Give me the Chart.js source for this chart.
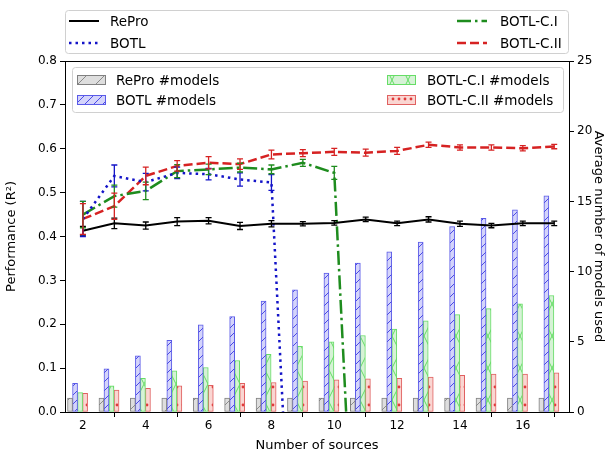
<!DOCTYPE html>
<html>
<head>
<meta charset="utf-8">
<script src="https://cdn.jsdelivr.net/npm/chart.js@4.4.1/dist/chart.umd.min.js"></script>
<style>
  html, body { margin: 0; padding: 0; background: #fff; }
  #chart { display: block; }
</style>
</head>
<body>
<canvas id="chart" width="610" height="457"></canvas>
<script>
const colBlack = "#000000";
const colBlue = "#1414c8";
const colGreen = "#1e8c1e";
const colRed = "#d62222";

// x values and ticks
const sources = [2, 3, 4, 5, 6, 7, 8, 9, 10, 11, 12, 13, 14, 15, 16, 17];
const xTicks = [2, 4, 6, 8, 10, 12, 14, 16];

// performance (R^2), left axis
const repro = [0.413, 0.430, 0.425, 0.434, 0.436, 0.424, 0.429, 0.429, 0.431, 0.439, 0.430, 0.439, 0.429, 0.425, 0.430, 0.430];
const reproErr = [0.010, 0.012, 0.008, 0.009, 0.007, 0.008, 0.007, 0.005, 0.005, 0.005, 0.005, 0.006, 0.006, 0.005, 0.005, 0.005];
const botl = [0.440, 0.538, 0.524, 0.545, 0.542, 0.530, 0.523, -0.9];
const botlErr = [0.040, 0.025, 0.020, 0.013, 0.013, 0.015, 0.018];
const botlC1 = [0.450, 0.492, 0.504, 0.549, 0.553, 0.557, 0.553, 0.568, 0.545, -0.9];
const botlC1Err = [0.030, 0.025, 0.020, 0.015, 0.012, 0.010, 0.010, 0.008, 0.015];
const botlC2 = [0.440, 0.469, 0.538, 0.561, 0.568, 0.565, 0.587, 0.590, 0.593, 0.591, 0.595, 0.609, 0.603, 0.603, 0.601, 0.605];
const botlC2Err = [0.035, 0.030, 0.020, 0.012, 0.014, 0.012, 0.010, 0.008, 0.008, 0.008, 0.008, 0.006, 0.006, 0.006, 0.006, 0.005];

// average number of models used, right axis
const reproModels = [1, 1, 1, 1, 1, 1, 1, 1, 1, 1, 1, 1, 1, 1, 1, 1];
const botlModels = [2.05, 3.07, 4.0, 5.1, 6.2, 6.8, 7.9, 8.7, 9.9, 10.6, 11.4, 12.1, 13.2, 13.8, 14.4, 15.4];
const botlC1Models = [1.38, 1.86, 2.4, 2.93, 3.17, 3.67, 4.1, 4.67, 5.0, 5.45, 5.9, 6.5, 6.93, 7.36, 7.7, 8.3];
const botlC2Models = [1.33, 1.57, 1.69, 1.86, 1.9, 2.05, 2.1, 2.2, 2.29, 2.36, 2.4, 2.48, 2.62, 2.7, 2.7, 2.79];

const xMin = 1.43;
const xMax = 17.47;
// each bar series sits on its own hidden x axis, shifted from the tick
const barOffsets = { xg: -0.41, xb: -0.25, xc1: -0.09, xc2: 0.07 };

function pts(vals) {
	return sources.map((s, i) => ({ x: s, y: i < vals.length ? vals[i] : null }));
}

function hatch(bg, fg, kind, w, h) {
	const c = document.createElement("canvas");
	c.width = w;
	c.height = h;
	const g = c.getContext("2d");
	g.fillStyle = bg;
	g.fillRect(0, 0, w, h);
	g.strokeStyle = fg;
	g.fillStyle = fg;
	g.lineWidth = 1;
	g.beginPath();
	if (kind === "/" || kind === "x") {
		g.moveTo(0, h); g.lineTo(w, 0);
		g.moveTo(-2, 2); g.lineTo(2, -2);
		g.moveTo(w - 2, h + 2); g.lineTo(w + 2, h - 2);
	}
	if (kind === "\\" || kind === "x") {
		g.moveTo(0, 0); g.lineTo(w, h);
		g.moveTo(-2, h - 2); g.lineTo(2, h + 2);
		g.moveTo(w - 2, -2); g.lineTo(w + 2, 2);
	}
	g.stroke();
	if (kind === ".") {
		g.beginPath();
		g.arc(w / 2, h / 2, 1.4, 0, Math.PI * 2);
		g.fill();
	}
	return g.createPattern(c, "repeat");
}

const ctx = document.getElementById("chart").getContext("2d");

const errSeries = [
	{ vals: repro, err: reproErr, color: colBlack },
	{ vals: botl, err: botlErr, color: colBlue },
	{ vals: botlC1, err: botlC1Err, color: colGreen },
	{ vals: botlC2, err: botlC2Err, color: colRed },
];

const errorBars = {
	id: "errorBars",
	afterDatasetsDraw(chart) {
		const { ctx, scales, chartArea } = chart;
		ctx.save();
		ctx.beginPath();
		ctx.rect(chartArea.left, chartArea.top, chartArea.right - chartArea.left, chartArea.bottom - chartArea.top);
		ctx.clip();
		ctx.lineWidth = 1.3;
		errSeries.forEach((s) => {
			ctx.strokeStyle = s.color;
			s.err.forEach((e, i) => {
				const x = scales.x.getPixelForValue(sources[i]);
				const y1 = scales.y.getPixelForValue(s.vals[i] - e);
				const y2 = scales.y.getPixelForValue(s.vals[i] + e);
				ctx.beginPath();
				ctx.moveTo(x, y1); ctx.lineTo(x, y2);
				ctx.moveTo(x - 3, y1); ctx.lineTo(x + 3, y1);
				ctx.moveTo(x - 3, y2); ctx.lineTo(x + 3, y2);
				ctx.stroke();
			});
		});
		ctx.restore();
	},
};

const frameAndLegends = {
	id: "frameAndLegends",
	afterDraw(chart) {
		const { ctx, chartArea, data } = chart;
		ctx.save();
		ctx.strokeStyle = "#000";
		ctx.lineWidth = 1;
		ctx.strokeRect(chartArea.left + 0.5, chartArea.top + 0.5, chartArea.right - chartArea.left, chartArea.bottom - chartArea.top);

		const box = (x1, y1, x2, y2) => {
			ctx.beginPath();
			ctx.roundRect(x1 + 0.5, y1 + 0.5, x2 - x1, y2 - y1, 3);
			ctx.fillStyle = "rgba(255,255,255,0.8)";
			ctx.fill();
			ctx.strokeStyle = "#d0d0d0";
			ctx.lineWidth = 1;
			ctx.stroke();
		};
		ctx.font = '13.5px "DejaVu Sans"';
		ctx.textBaseline = "middle";

		// line legend above the plot
		box(65, 10, 568, 53);
		const lineItems = [
			[0, 69, 21, 110], [1, 69, 43, 110], [2, 457, 21, 500], [3, 457, 43, 500],
		];
		lineItems.forEach(([i, hx, y, tx]) => {
			const ds = data.datasets[i];
			ctx.beginPath();
			ctx.setLineDash(ds.borderDash || []);
			ctx.lineWidth = ds.borderWidth;
			ctx.strokeStyle = ds.borderColor;
			ctx.moveTo(hx, y); ctx.lineTo(hx + 30, y);
			ctx.stroke();
			ctx.setLineDash([]);
			ctx.fillStyle = "#000";
			ctx.fillText(ds.label, tx, y + 1);
		});

		// bar legend inside the plot
		box(72, 67, 563, 112);
		const barItems = [
			[4, 77, 80, 116], [5, 77, 100, 116], [6, 387, 80, 427], [7, 387, 100, 427],
		];
		barItems.forEach(([i, hx, y, tx]) => {
			const ds = data.datasets[i];
			ctx.fillStyle = ds.backgroundColor;
			ctx.fillRect(hx, y - 5, 29, 10);
			ctx.strokeStyle = ds.borderColor;
			ctx.lineWidth = 1;
			ctx.strokeRect(hx + 0.5, y - 4.5, 28, 9);
			ctx.fillStyle = "#000";
			ctx.fillText(ds.label, tx, y + 1);
		});
		ctx.restore();
	},
};

Chart.defaults.color = "#000";
Chart.defaults.font.family = '"DejaVu Sans", sans-serif';
Chart.defaults.font.size = 12;

const lineBase = { type: "line", yAxisID: "y", xAxisID: "x", pointRadius: 0, fill: false, tension: 0, order: 0, spanGaps: false };
const barBase = { type: "bar", yAxisID: "y2", borderWidth: 1, borderSkipped: false, order: 1, barThickness: 5, grouped: false };

const hiddenX = (id) => ({
	type: "linear",
	display: false,
	min: xMin - barOffsets[id],
	max: xMax - barOffsets[id],
	offset: false,
});

new Chart(ctx, {
	type: "bar",
	data: {
		datasets: [
			{ ...lineBase, label: "RePro", data: pts(repro), borderColor: colBlack, borderWidth: 2 },
			{ ...lineBase, label: "BOTL", data: pts(botl), borderColor: colBlue, borderWidth: 2.5, borderDash: [2.5, 4] },
			{ ...lineBase, label: "BOTL-C.I", data: pts(botlC1), borderColor: colGreen, borderWidth: 2.5, borderDash: [14, 4, 2.5, 4] },
			{ ...lineBase, label: "BOTL-C.II", data: pts(botlC2), borderColor: colRed, borderWidth: 2.5, borderDash: [9, 4] },
			{ ...barBase, xAxisID: "xg", label: "RePro #models", data: pts(reproModels), backgroundColor: hatch("#dedede", "#8a8a8a", "/", 18, 18), borderColor: "#808080" },
			{ ...barBase, xAxisID: "xb", label: "BOTL #models", data: pts(botlModels), backgroundColor: hatch("#d4d4fb", "#4a4ae6", "/", 9, 9), borderColor: "#5a5ae8" },
			{ ...barBase, xAxisID: "xc1", label: "BOTL-C.I #models", data: pts(botlC1Models), backgroundColor: hatch("#d6f2d6", "#66dd66", "x", 16, 32), borderColor: "#66dd66" },
			{ ...barBase, xAxisID: "xc2", label: "BOTL-C.II #models", data: pts(botlC2Models), backgroundColor: hatch("#fad6d2", "#e03a3a", ".", 6, 18), borderColor: "#e06060" },
		],
	},
	options: {
		responsive: false,
		animation: false,
		devicePixelRatio: 1,
		layout: { padding: { top: 61, left: 0, right: 0, bottom: 0 } },
		plugins: { legend: { display: false }, tooltip: { enabled: false } },
		scales: {
			x: {
				type: "linear",
				position: "bottom",
				min: xMin,
				max: xMax,
				offset: false,
				afterBuildTicks: (scale) => { scale.ticks = xTicks.map((v) => ({ value: v })); },
				afterFit: (scale) => { scale.height = 45; },
				ticks: { padding: 2, font: { size: 12 } },
				grid: { drawOnChartArea: false, drawTicks: true, tickLength: 5, color: "#000" },
				border: { display: true, color: "#000" },
				title: { display: true, text: "Number of sources", font: { size: 13 }, padding: { top: 2, bottom: 4 } },
			},
			xg: hiddenX("xg"),
			xb: hiddenX("xb"),
			xc1: hiddenX("xc1"),
			xc2: hiddenX("xc2"),
			y: {
				position: "left",
				min: 0,
				max: 0.8,
				afterFit: (scale) => { scale.width = 65; },
				ticks: { stepSize: 0.1, padding: 3, callback: (v) => v.toFixed(1), font: { size: 12 } },
				grid: { drawOnChartArea: false, drawTicks: true, tickLength: 5, color: "#000" },
				border: { display: true, color: "#000" },
				title: { display: true, text: "Performance (R²)", font: { size: 13 }, padding: { top: 4, bottom: 2 } },
			},
			y2: {
				position: "right",
				min: 0,
				max: 25,
				afterFit: (scale) => { scale.width = 41; },
				ticks: { stepSize: 5, padding: 3, font: { size: 12 } },
				grid: { drawOnChartArea: false, drawTicks: true, tickLength: 5, color: "#000" },
				border: { display: true, color: "#000" },
				title: { display: true, text: "Average number of models used", font: { size: 13 }, padding: { top: 4, bottom: 0 } },
			},
		},
	},
	plugins: [errorBars, frameAndLegends],
});
</script>
</body>
</html>
